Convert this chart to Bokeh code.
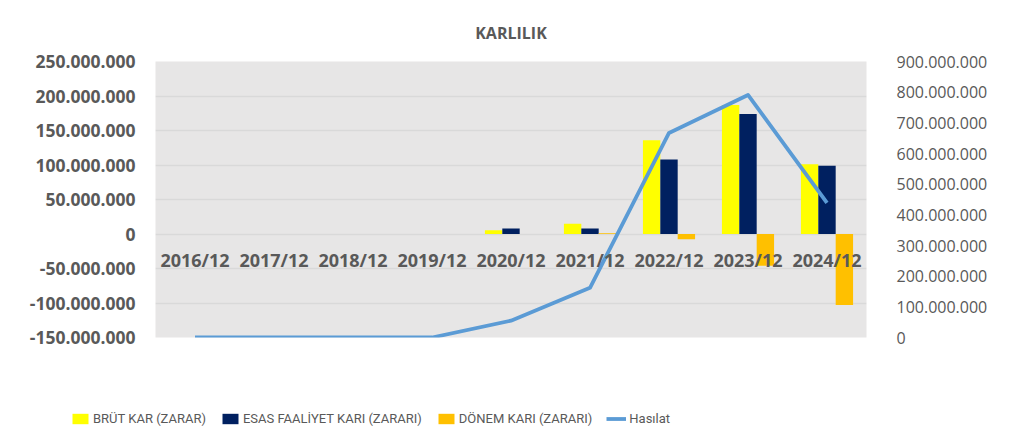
from bokeh.plotting import figure
from bokeh.models import (Range1d, LinearAxis, FixedTicker, CustomJSTickFormatter,
                          Legend, LegendItem, FactorRange, Title, ColumnDataSource)
from bokeh.transform import dodge
from bokeh.embed import file_html
from bokeh.resources import INLINE

categories = ["2016/12", "2017/12", "2018/12", "2019/12", "2020/12",
              "2021/12", "2022/12", "2023/12", "2024/12"]
brut_kar = [0, 0, 0, 0, 5_500_000, 15_000_000, 136_000_000, 187_000_000, 101_000_000]
esas_faaliyet = [0, 0, 0, 0, 8_000_000, 8_000_000, 108_000_000, 174_000_000, 99_000_000]
donem_kari = [0, 0, 0, 0, 0, 1_000_000, -7_500_000, -46_000_000, -103_000_000]
hasilat = [0, 0, 0, 0, 55_000_000, 162_000_000, 667_000_000, 791_000_000, 439_000_000]

left_ticks = [-150_000_000, -100_000_000, -50_000_000, 0, 50_000_000,
              100_000_000, 150_000_000, 200_000_000, 250_000_000]
right_ticks = [0, 100_000_000, 200_000_000, 300_000_000, 400_000_000,
               500_000_000, 600_000_000, 700_000_000, 800_000_000, 900_000_000]

series_labels = ["BRÜT KAR (ZARAR)", "ESAS FAALİYET KARI (ZARARI)",
                 "DÖNEM KARI (ZARARI)", "Hasılat"]
colors = ["#FFFF00", "#002060", "#FFC000", "#5B9BD5"]

FONT = "Open Sans"
TXT = "#595959"

fmt = CustomJSTickFormatter(code="""
    return Math.round(tick).toString().replace(/\\B(?=(\\d{3})+(?!\\d))/g, '.');
""")

p = figure(width=1008, height=385, output_backend="svg", toolbar_location=None,
           x_range=FactorRange(*categories, range_padding=0),
           y_range=Range1d(left_ticks[0], left_ticks[-1]),
           min_border_left=155, min_border_right=142, min_border_top=61,
           min_border_bottom=48, background_fill_color="#E7E6E6",
           border_fill_color="white", outline_line_color=None)
p.title = None
p.add_layout(Title(text="KARLILIK", align="center", text_font=FONT,
                   text_font_size="16px", text_font_style="bold",
                   text_color=TXT, standoff=36), "above")

p.extra_y_ranges = {"rev": Range1d(right_ticks[0], right_ticks[-1])}

source = ColumnDataSource(dict(cat=categories, brut=brut_kar, esas=esas_faaliyet,
                               donem=donem_kari, has=hasilat))

bw = 0.22
p.vbar(x=dodge("cat", -bw, range=p.x_range), top="brut", bottom=0, width=bw,
       source=source, fill_color=colors[0], line_color=None)
p.vbar(x=dodge("cat", 0, range=p.x_range), top="esas", bottom=0, width=bw,
       source=source, fill_color=colors[1], line_color=None)
p.vbar(x=dodge("cat", bw, range=p.x_range), top="donem", bottom=0, width=bw,
       source=source, fill_color=colors[2], line_color=None)
p.line(x="cat", y="has", source=source, y_range_name="rev",
       line_color=colors[3], line_width=3.8, line_join="round")

ya = p.yaxis[0]
ya.ticker = FixedTicker(ticks=left_ticks)
ya.formatter = fmt
ya.axis_line_color = None
ya.major_tick_line_color = None
ya.minor_tick_line_color = None
ya.major_label_standoff = 14
ya.major_label_text_font = FONT
ya.major_label_text_font_size = "17.5px"
ya.major_label_text_font_style = "bold"
ya.major_label_text_color = TXT

ra = LinearAxis(y_range_name="rev", ticker=FixedTicker(ticks=right_ticks), formatter=fmt,
                axis_line_color=None, major_tick_line_color=None,
                minor_tick_line_color=None, major_label_standoff=24,
                major_label_text_font=FONT, major_label_text_font_size="16px",
                major_label_text_color=TXT)
p.add_layout(ra, "right")

xa = p.xaxis[0]
xa.fixed_location = 0
xa.axis_line_color = None
xa.major_tick_line_color = None
xa.minor_tick_line_color = None
xa.major_label_standoff = 8
xa.major_label_text_font = FONT
xa.major_label_text_font_size = "18px"
xa.major_label_text_font_style = "bold"
xa.major_label_text_color = TXT

p.xgrid.grid_line_color = None
p.ygrid.grid_line_color = "#D9D9D9"
p.ygrid.grid_line_width = 1.5
p.ygrid.ticker = FixedTicker(ticks=left_ticks)

# legend strip below the chart (separate root, frame = whole strip)
lg = figure(width=1008, height=45, output_backend="svg", toolbar_location=None,
            x_axis_type=None, y_axis_type=None, x_range=(0, 1), y_range=(0, 1),
            min_border=0, outline_line_color=None, background_fill_color="white",
            border_fill_color="white")
lg.title = None
lg.grid.visible = False
nan = float("nan")
dummy = ColumnDataSource(dict(x=[nan], y=[nan]))
lg_rs = [lg.vbar(x="x", top="y", width=0.1, source=dummy, fill_color=c, line_color=None)
         for c in colors[:3]]
lg_line = lg.line(x="x", y="y", source=dummy, line_color=colors[3], line_width=3.8)

legend = Legend(items=[LegendItem(label=series_labels[i], renderers=[lg_rs[i]]) for i in range(3)]
                + [LegendItem(label=series_labels[3], renderers=[lg_line])],
                orientation="horizontal", location=(70, 4), background_fill_alpha=0,
                border_line_color=None, label_text_font="Roboto",
                label_text_font_size="13px", label_text_color=TXT,
                glyph_width=20, glyph_height=13, spacing=14,
                label_standoff=3, padding=0, margin=0)
lg.add_layout(legend)

open("out.html", "w").write(file_html([p, lg], INLINE))
